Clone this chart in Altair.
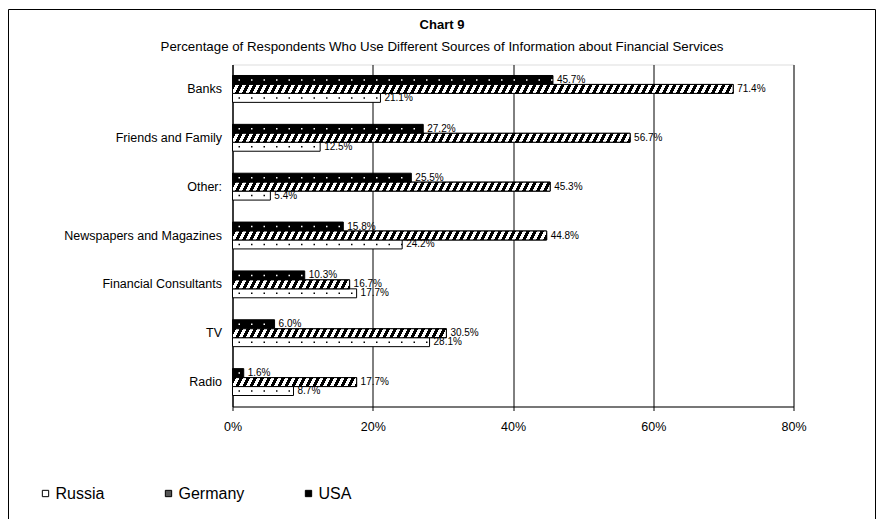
import altair as alt
import pandas as pd

# ---- data ----
categories = ["Banks", "Friends and Family", "Other:", "Newspapers and Magazines",
              "Financial Consultants", "TV", "Radio"]
usa = [45.7, 27.2, 25.5, 15.8, 10.3, 6.0, 1.6]
germany = [71.4, 56.7, 45.3, 44.8, 16.7, 30.5, 17.7]
russia = [21.1, 12.5, 5.4, 24.2, 17.7, 28.1, 8.7]
bar_order = ["USA", "Germany", "Russia"]
legend_order = ["Russia", "Germany", "USA"]
x_ticks = [0, 20, 40, 60, 80]
title_text = "Chart 9"
subtitle_text = ("Percentage of Respondents Who Use Different Sources of Information "
                 "about Financial Services")

rows = []
for i, c in enumerate(categories):
    for s, vals in (("USA", usa), ("Germany", germany), ("Russia", russia)):
        rows.append({"cat": c, "series": s, "value": vals[i], "zero": 0,
                     "label": f"{vals[i]:.1f}%"})
df = pd.DataFrame(rows)

FONT = "Liberation Sans"
PLOT_W = 561
PLOT_H = 342
PI, PO = 0.45, 0.225
STEP = PLOT_H / (len(categories) - PI + 2 * PO)
BAR_H = STEP * (1 - PI) / 3


def hatch(v, period=7.0, black=0.5, slant=0.5):
    W = v / 80 * PLOT_W
    H = BAR_H
    F = W + slant * H
    lam = F / (W * W + slant * slant * H * H)
    stops = []
    k = 0
    while k * period < F:
        a0 = round(k * period / F, 5)
        a1 = round(min((k * period + black * period) / F, 1), 5)
        a2 = round(min((k + 1) * period / F, 1), 5)
        stops += [{"offset": a0, "color": "black"}, {"offset": a1, "color": "black"},
                  {"offset": a1, "color": "white"}, {"offset": a2, "color": "white"}]
        k += 1
    return {"gradient": "linear", "x1": 0, "y1": 0,
            "x2": round(lam * W, 6), "y2": round(lam * slant * H, 6), "stops": stops}


x_enc = alt.X("value:Q",
              scale=alt.Scale(domain=[0, 80], nice=False, zero=True),
              axis=alt.Axis(values=x_ticks, labelExpr="datum.value + '%'", title=None,
                            grid=True, gridColor="black", gridOpacity=1, gridWidth=1,
                            tickColor="black", tickSize=4, labelPadding=10,
                            labelFlush=False,
                            labelFontSize=12.5, labelFont=FONT, labelColor="black",
                            domainColor="black"))
y_enc = alt.Y("cat:N", sort=categories,
              scale=alt.Scale(domain=categories, paddingInner=PI, paddingOuter=PO),
              axis=alt.Axis(title=None, ticks=False, labelPadding=11, labelFontSize=12.5,
                            labelFont=FONT, labelColor="black", domainColor="black"))
yo_enc = alt.YOffset("series:N", sort=bar_order,
                     scale=alt.Scale(domain=bar_order, paddingInner=0, paddingOuter=0))

base = alt.Chart(df)
one = alt.Chart(pd.DataFrame({"a": [0]}))

frame = one.mark_rect(fillOpacity=0, stroke="black", strokeWidth=1).encode(
    x=alt.value(-224), x2=alt.value(643), y=alt.value(-55), y2=alt.value(470))

title_mark = one.mark_text(font=FONT, fontSize=13, fontWeight="bold", color="black",
                           align="center", baseline="middle").encode(
    x=alt.value(209.5), y=alt.value(-40), text=alt.value(title_text))

subtitle_mark = one.mark_text(font=FONT, fontSize=13.3, color="black",
                              align="center", baseline="middle").encode(
    x=alt.value(209.5), y=alt.value(-18), text=alt.value(subtitle_text))

bars = base.mark_bar(stroke="black", strokeWidth=1).encode(
    x=x_enc, y=y_enc, yOffset=yo_enc,
    fill=alt.Fill("series:N",
                  scale=alt.Scale(domain=legend_order, range=["white", "#555555", "black"]),
                  legend=alt.Legend(title=None, orient="none", legendX=-195, legendY=421,
                                    direction="horizontal", symbolType="square",
                                    symbolSize=40, symbolStrokeColor="black",
                                    symbolStrokeWidth=1, labelFontSize=16,
                                    labelFont=FONT, labelColor="black",
                                    columnPadding=56, labelOffset=2)),
)

germany_layers = []
for i, c in enumerate(categories):
    germany_layers.append(
        base.transform_filter((alt.datum.cat == c) & (alt.datum.series == "Germany"))
        .mark_bar(fill=hatch(germany[i]), stroke="black", strokeWidth=1)
        .encode(x=x_enc, y=y_enc, yOffset=yo_enc)
    )

usa_dots = base.transform_filter(alt.datum.series == "USA").mark_rule(
    color="white", strokeWidth=1.5, strokeDash=[1.5, 11], strokeDashOffset=-6
).encode(x=alt.X("zero:Q"), x2="value:Q", y=y_enc, yOffset=yo_enc)

russia_dots = base.transform_filter(alt.datum.series == "Russia").mark_rule(
    color="black", strokeWidth=1.5, strokeDash=[1.5, 11], strokeDashOffset=-6
).encode(x=alt.X("zero:Q"), x2="value:Q", y=y_enc, yOffset=yo_enc)

labels = base.mark_text(align="left", baseline="middle", dx=4, fontSize=10,
                        font=FONT, color="black").encode(
    x=x_enc, y=y_enc, yOffset=yo_enc, text="label:N")

chart = alt.layer(frame, title_mark, subtitle_mark, bars, *germany_layers,
                  usa_dots, russia_dots, labels).properties(
    width=PLOT_W, height=PLOT_H,
    autosize=alt.AutoSizeParams(type="none"),
    padding={"left": 224.5, "top": 56.5, "right": 82.5, "bottom": 112.5},
).configure_view(stroke="black", strokeWidth=1).configure(background="white")

chart.save("out.html", embed_options={"renderer": "svg", "actions": False})
